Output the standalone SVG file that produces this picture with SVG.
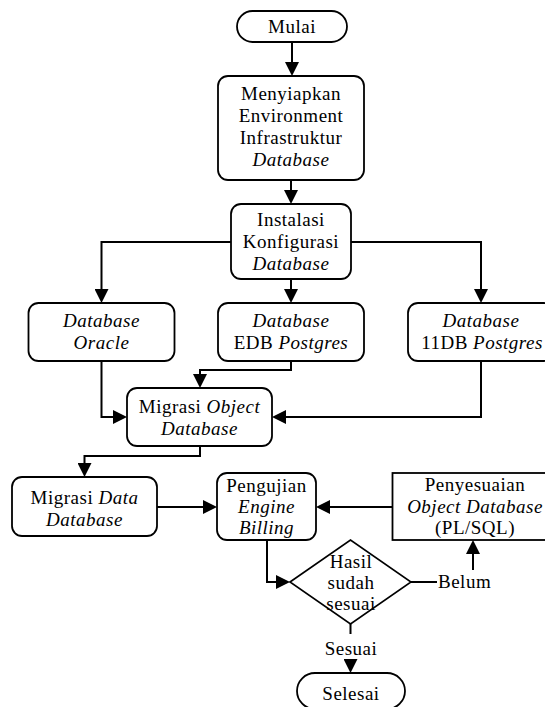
<svg xmlns="http://www.w3.org/2000/svg" width="545" height="707" viewBox="0 0 545 707">
<defs>
<marker id="arr" viewBox="0 0 14 14" markerWidth="14" markerHeight="14" refX="8" refY="7" orient="auto" markerUnits="userSpaceOnUse">
<path d="M0,0 L14,7 L0,14 z" fill="#000"/>
</marker>
<style>
.n{fill:#fff;stroke:#000;stroke-width:1.8}
.t{font-family:"Liberation Serif","Times New Roman",serif;font-size:19px;letter-spacing:0.5px;text-anchor:middle;fill:#000}
.i{font-style:italic}
.c{fill:none;stroke:#000;stroke-width:2;marker-end:url(#arr)}
.l{fill:none;stroke:#000;stroke-width:2}
</style>
</defs>
<rect width="545" height="707" fill="#fff"/>
<g id="connectors">
<path class="c" d="M292,42 V70"/>
<path class="c" d="M291,180 V198"/>
<path class="c" d="M231,242 H101.5 V297"/>
<path class="c" d="M351,242 H481 V297"/>
<path class="c" d="M291,279 V297"/>
<path class="c" d="M101.5,361 V417 H121"/>
<path class="c" d="M291,361 V370 H200 V382"/>
<path class="c" d="M481,361 V417 H278"/>
<path class="c" d="M200,446 V456 H84.5 V471"/>
<path class="c" d="M157,507 H211"/>
<path class="c" d="M392,507 H322"/>
<path class="c" d="M267,540 V582 H284"/>
<path class="l" d="M411,582 H437"/>
<path class="c" d="M473,570 V546"/>
<path class="l" d="M350.5,624 V634"/>
<path class="c" d="M350.5,660 V667"/>
</g>
<g id="mulai">
<rect class="n" x="237" y="11" width="110" height="31" rx="15.5"/>
<text class="t" x="292" y="33">Mulai</text>
</g>
<g id="menyiapkan">
<rect class="n" x="218" y="76" width="146" height="104" rx="10"/>
<text class="t" x="291" y="99.5">Menyiapkan</text>
<text class="t" x="291" y="121.5">Environment</text>
<text class="t" x="291" y="143.5">Infrastruktur</text>
<text class="t i" x="291" y="165.5">Database</text>
</g>
<g id="instalasi">
<rect class="n" x="231" y="204" width="120" height="75" rx="10"/>
<text class="t" x="291" y="226">Instalasi</text>
<text class="t" x="291" y="248">Konfigurasi</text>
<text class="t i" x="291" y="269.5">Database</text>
</g>
<g id="oracle">
<rect class="n" x="28.5" y="303" width="146" height="58" rx="10"/>
<text class="t i" x="101.5" y="326.7">Database</text>
<text class="t i" x="101.5" y="348.5">Oracle</text>
</g>
<g id="edb">
<rect class="n" x="218" y="303" width="146" height="58" rx="10"/>
<text class="t i" x="291" y="326.7">Database</text>
<text class="t" x="291" y="348.5">EDB <tspan class="i">Postgres</tspan></text>
</g>
<g id="db11">
<rect class="n" x="408" y="303" width="146" height="58" rx="10"/>
<text class="t i" x="481" y="326.7">Database</text>
<text class="t" x="482" y="348.5">11DB <tspan class="i">Postgres</tspan></text>
</g>
<g id="migrasi-object">
<rect class="n" x="127" y="388" width="145" height="58" rx="10"/>
<text class="t" x="199.5" y="412.7">Migrasi <tspan class="i">Object</tspan></text>
<text class="t i" x="199.5" y="435">Database</text>
</g>
<g id="migrasi-data">
<rect class="n" x="12" y="477" width="145" height="59" rx="10"/>
<text class="t" x="84.5" y="504">Migrasi <tspan class="i">Data</tspan></text>
<text class="t i" x="84.5" y="525.5">Database</text>
</g>
<g id="pengujian">
<rect class="n" x="217" y="473" width="99" height="67" rx="10"/>
<text class="t" x="266.5" y="491.7">Pengujian</text>
<text class="t i" x="266.5" y="513.3">Engine</text>
<text class="t i" x="266.5" y="534">Billing</text>
</g>
<g id="penyesuaian">
<rect class="n" x="392.5" y="473" width="166" height="67"/>
<text class="t" x="475" y="491">Penyesuaian</text>
<text class="t i" x="475" y="513">Object Database</text>
<text class="t" x="475" y="534">(PL/SQL)</text>
</g>
<g id="hasil">
<polygon class="n" points="290,582 350.5,540 411,582 350.5,624" style="stroke-width:1.6"/>
<text class="t" x="351" y="567.5">Hasil</text>
<text class="t" x="351" y="589">sudah</text>
<text class="t" x="351" y="610">sesuai</text>
</g>
<g id="belum">
<text class="t" x="438" y="588" style="text-anchor:start">Belum</text>
</g>
<g id="sesuai">
<text class="t" x="351" y="655">Sesuai</text>
</g>
<g id="selesai">
<rect class="n" x="297" y="673" width="108" height="36" rx="18"/>
<text class="t" x="351" y="700">Selesai</text>
</g>
</svg>
